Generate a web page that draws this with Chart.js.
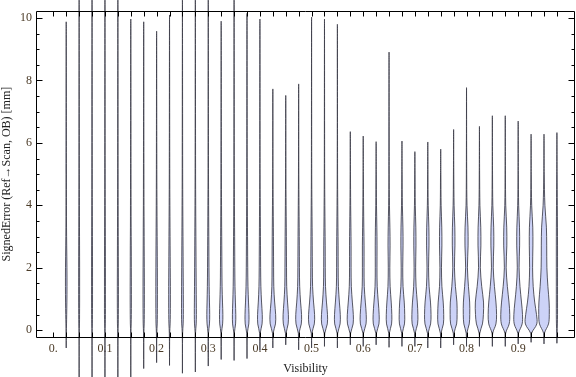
<!DOCTYPE html>
<html>
<head>
<meta charset="utf-8">
<script src="https://cdn.jsdelivr.net/npm/chart.js@4.4.1/dist/chart.umd.min.js"></script>
<style>
  html, body { margin: 0; padding: 0; background: #fff; }
  #wrap { width: 576px; height: 377px; }
</style>
</head>
<body>
<div id="wrap"><canvas id="violinChart" width="576" height="377"></canvas></div>
<script>
// Visibility bins (violin centres)
const visibility = [
  0.025, 0.05, 0.075, 0.1, 0.125, 0.15, 0.175, 0.2, 0.225, 0.25,
  0.275, 0.3, 0.325, 0.35, 0.375, 0.4, 0.425, 0.45, 0.475, 0.5,
  0.525, 0.55, 0.575, 0.6, 0.625, 0.65, 0.675, 0.7, 0.725, 0.75,
  0.775, 0.8, 0.825, 0.85, 0.875, 0.9, 0.925, 0.95, 0.975,
];

// Largest / smallest signed error in each bin [mm]
const errorMax = [
  9.88, 10.6, 10.6, 10.6, 10.6, 9.97, 9.88, 9.58, 10.1, 10.6,
  10.6, 10.6, 9.9, 10.6, 10.15, 9.97, 7.73, 7.52, 7.89, 10.03,
  9.97, 9.8, 6.36, 6.22, 6.04, 8.91, 6.06, 5.72, 6.03, 5.8,
  6.43, 7.77, 6.53, 6.87, 6.87, 6.7, 6.28, 6.28, 6.33,
];
const errorMin = [
  -0.57, -1.6, -1.6, -1.6, -1.6, -1.5, -1.23, -1.04, -1.13, -1.38,
  -1.34, -1.15, -0.94, -0.97, -0.91, -0.65, -0.57, -0.47, -0.63, -0.57,
  -0.52, -0.57, -0.47, -0.52, -0.47, -0.55, -0.52, -0.52, -0.57, -0.57,
  -0.47, -0.52, -0.52, -0.52, -0.52, -0.44, -0.39, -0.44, -0.42,
];

// Error levels at which the density of each violin was read
const densityLevels = [-0.1, 0.2, 0.5, 0.9, 1.4, 2.0, 2.7, 3.3, 4.0, 5.0];

// Relative density per bin at those levels
const densities = [
  [0.02, 0.05, 0.08, 0.11, 0.13, 0.12, 0.08, 0.05, 0.04, 0.03],
  [0.02, 0.06, 0.07, 0.08, 0.08, 0.08, 0.07, 0.06, 0.05, 0.04],
  [0.02, 0.06, 0.07, 0.08, 0.08, 0.08, 0.07, 0.06, 0.05, 0.04],
  [0.02, 0.06, 0.08, 0.08, 0.08, 0.08, 0.07, 0.06, 0.05, 0.04],
  [0.02, 0.07, 0.08, 0.09, 0.09, 0.08, 0.07, 0.06, 0.05, 0.04],
  [0.02, 0.07, 0.09, 0.1, 0.1, 0.09, 0.08, 0.06, 0.05, 0.04],
  [0.03, 0.08, 0.1, 0.11, 0.11, 0.1, 0.08, 0.07, 0.05, 0.04],
  [0.03, 0.1, 0.12, 0.13, 0.13, 0.12, 0.1, 0.08, 0.06, 0.04],
  [0.03, 0.1, 0.13, 0.14, 0.14, 0.12, 0.1, 0.08, 0.06, 0.04],
  [0.03, 0.12, 0.15, 0.15, 0.14, 0.12, 0.1, 0.08, 0.06, 0.04],
  [0.03, 0.14, 0.17, 0.16, 0.14, 0.12, 0.1, 0.08, 0.06, 0.04],
  [0.04, 0.2, 0.24, 0.2, 0.15, 0.12, 0.1, 0.08, 0.06, 0.04],
  [0.04, 0.24, 0.28, 0.22, 0.15, 0.12, 0.1, 0.08, 0.06, 0.04],
  [0.04, 0.25, 0.28, 0.22, 0.15, 0.12, 0.1, 0.08, 0.06, 0.04],
  [0.05, 0.3, 0.33, 0.25, 0.16, 0.12, 0.1, 0.08, 0.06, 0.04],
  [0.05, 0.36, 0.39, 0.27, 0.16, 0.12, 0.1, 0.08, 0.06, 0.03],
  [0.05, 0.44, 0.47, 0.3, 0.16, 0.13, 0.11, 0.09, 0.06, 0.03],
  [0.05, 0.4, 0.44, 0.3, 0.16, 0.13, 0.11, 0.09, 0.06, 0.03],
  [0.05, 0.44, 0.48, 0.32, 0.17, 0.13, 0.11, 0.09, 0.06, 0.03],
  [0.05, 0.46, 0.5, 0.33, 0.17, 0.13, 0.11, 0.09, 0.06, 0.03],
  [0.05, 0.47, 0.5, 0.33, 0.17, 0.13, 0.12, 0.09, 0.06, 0.03],
  [0.05, 0.45, 0.48, 0.33, 0.17, 0.13, 0.12, 0.09, 0.06, 0.03],
  [0.05, 0.47, 0.5, 0.34, 0.17, 0.13, 0.13, 0.1, 0.06, 0.03],
  [0.05, 0.47, 0.5, 0.35, 0.17, 0.14, 0.14, 0.1, 0.06, 0.03],
  [0.05, 0.47, 0.5, 0.36, 0.18, 0.14, 0.15, 0.12, 0.06, 0.03],
  [0.05, 0.42, 0.46, 0.36, 0.18, 0.13, 0.17, 0.14, 0.07, 0.03],
  [0.05, 0.42, 0.46, 0.38, 0.18, 0.13, 0.18, 0.16, 0.07, 0.03],
  [0.05, 0.45, 0.5, 0.4, 0.2, 0.13, 0.18, 0.16, 0.07, 0.03],
  [0.05, 0.47, 0.54, 0.45, 0.22, 0.13, 0.2, 0.18, 0.07, 0.03],
  [0.05, 0.45, 0.5, 0.42, 0.2, 0.13, 0.2, 0.18, 0.07, 0.03],
  [0.05, 0.5, 0.58, 0.55, 0.3, 0.14, 0.22, 0.2, 0.08, 0.03],
  [0.05, 0.45, 0.54, 0.52, 0.32, 0.15, 0.26, 0.24, 0.08, 0.03],
  [0.05, 0.5, 0.66, 0.68, 0.38, 0.15, 0.24, 0.22, 0.08, 0.03],
  [0.06, 0.6, 0.7, 0.6, 0.35, 0.15, 0.24, 0.22, 0.08, 0.03],
  [0.06, 0.65, 0.75, 0.62, 0.35, 0.15, 0.26, 0.24, 0.08, 0.03],
  [0.06, 0.66, 0.72, 0.55, 0.3, 0.15, 0.24, 0.22, 0.08, 0.03],
  [0.08, 0.95, 0.9, 0.6, 0.35, 0.25, 0.3, 0.28, 0.1, 0.03],
  [0.07, 0.75, 0.88, 0.85, 0.65, 0.48, 0.45, 0.4, 0.15, 0.04],
  [0.03, 0.08, 0.1, 0.1, 0.1, 0.1, 0.1, 0.09, 0.07, 0.04],
];

// Axis ticks
const xTickValues = [0, ...visibility];
const xLabelValues = [0, 0.1, 0.2, 0.3, 0.4, 0.5, 0.6, 0.7, 0.8, 0.9];
const xTickLabels = ["0.", "0.1", "0.2", "0.3", "0.4", "0.5", "0.6", "0.7", "0.8", "0.9"];
const yTickValues = [0, 0.5, 1, 1.5, 2, 2.5, 3, 3.5, 4, 4.5, 5, 5.5, 6, 6.5, 7, 7.5, 8, 8.5, 9, 9.5, 10];
const yLabelValues = [0, 2, 4, 6, 8, 10];
const yTickLabels = ["0", "2", "4", "6", "8", "10"];

// Half width (in visibility units) of a violin at density 1
const VIOLIN_WIDTH = 0.0116;
const SERIF = "'Liberation Serif', 'Times New Roman', serif";

/** Closed outline of one violin: up the right side, down the left */
function violinOutline(center, lo, hi, dens) {
  const right = [{ x: center, y: lo }];
  densityLevels.forEach((lvl, k) => {
    if (lvl > lo && lvl < hi) {
      right.push({ x: center + dens[k] * VIOLIN_WIDTH, y: lvl });
    }
  });
  right.push({ x: center, y: hi });
  const left = right
    .slice(1, -1)
    .reverse()
    .map((p) => ({ x: 2 * center - p.x, y: p.y }));
  return [...right, ...left, { x: center, y: lo }];
}

const datasets = visibility.map((v, i) => ({
  data: violinOutline(v, errorMin[i], errorMax[i], densities[i]),
  borderColor: "rgba(60, 60, 72, 0.85)",
  backgroundColor: "rgb(204, 210, 247)",
  borderWidth: 1,
  pointRadius: 0,
  tension: 0.35,
  fill: "shape",
  clip: false,
}));

function labelFor(values, labels) {
  return (value) => {
    const k = values.findIndex((v) => Math.abs(v - value) < 1e-9);
    return k >= 0 ? labels[k] : "";
  };
}

/** Frame and inward tick marks, placed with the chart's own scales */
const frameTicks = {
  id: "frameTicks",
  afterDraw(chart) {
    const { ctx, chartArea: a, scales } = chart;
    const px = (v) => Math.round(v) + 0.5;
    const L = px(a.left), R = px(a.right - 1), T = px(a.top), B = px(a.bottom);
    ctx.save();
    ctx.strokeStyle = "#000";
    ctx.lineWidth = 1;
    ctx.beginPath();
    ctx.rect(L, T, R - L, B - T);
    scales.x.ticks.forEach((t) => {
      const x = px(scales.x.getPixelForValue(t.value));
      ctx.moveTo(x, B); ctx.lineTo(x, B - 5);
      ctx.moveTo(x, T); ctx.lineTo(x, T + 5);
    });
    scales.y.ticks.forEach((t) => {
      const y = px(scales.y.getPixelForValue(t.value));
      const len = yLabelValues.some((v) => Math.abs(v - t.value) < 1e-9) ? 6 : 3;
      ctx.moveTo(L, y); ctx.lineTo(L + len, y);
      ctx.moveTo(R, y); ctx.lineTo(R - len, y);
    });
    ctx.stroke();
    ctx.restore();
  },
};

new Chart(document.getElementById("violinChart"), {
  type: "line",
  data: { datasets },
  options: {
    responsive: false,
    animation: false,
    events: [],
    layout: { padding: { top: 4, right: 1, left: 0, bottom: 0 } },
    elements: { line: { capBezierPoints: false } },
    plugins: { legend: { display: false }, tooltip: { enabled: false } },
    scales: {
      x: {
        type: "linear",
        min: -0.0335,
        max: 1.01,
        grid: { display: false, drawTicks: false },
        border: { display: false },
        afterBuildTicks: (scale) => {
          scale.ticks = xTickValues.map((v) => ({ value: v }));
        },
        afterFit: (scale) => { scale.height = 40; },
        ticks: {
          autoSkip: false,
          maxRotation: 0,
          padding: 5,
          color: "#4a3a26",
          font: { family: SERIF, size: 12 },
          callback: labelFor(xLabelValues, xTickLabels),
        },
        title: {
          display: true,
          text: "Visibility",
          color: "#222",
          font: { family: SERIF, size: 12 },
          padding: { top: 0, bottom: 1 },
        },
      },
      y: {
        type: "linear",
        min: -0.219,
        max: 10.22,
        grid: { display: false, drawTicks: false },
        border: { display: false },
        afterBuildTicks: (scale) => {
          scale.ticks = yTickValues.map((v) => ({ value: v }));
        },
        afterFit: (scale) => { scale.width = 36; },
        ticks: {
          autoSkip: false,
          padding: 4,
          color: "#4a3a26",
          font: { family: SERIF, size: 12 },
          callback: labelFor(yLabelValues, yTickLabels),
        },
        title: {
          display: true,
          text: "SignedError (Ref\u2192Scan, OB) [mm]",
          color: "#222",
          font: { family: SERIF, size: 12 },
          padding: { top: 0, bottom: 0 },
        },
      },
    },
  },
  plugins: [frameTicks],
});
</script>
</body>
</html>
